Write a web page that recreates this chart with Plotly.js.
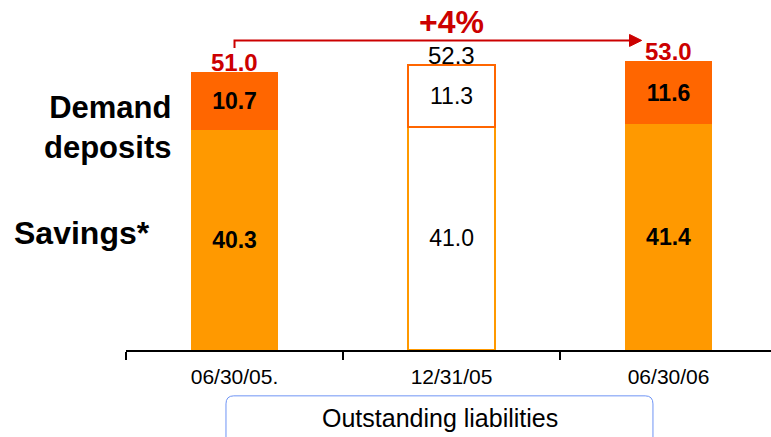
<!DOCTYPE html>
<html>
<head>
<meta charset="utf-8">
<script src="https://cdn.plot.ly/plotly-3.0.1.min.js"></script>
<style>
  html, body { margin: 0; padding: 0; background: #ffffff; }
  #chart { width: 771px; height: 437px; }
</style>
</head>
<body>
<div id="chart"></div>
<script>
// Outstanding liabilities, EUR bn
const periods = ['06/30/05.', '12/31/05', '06/30/06'];
const savings = [40.3, 41.0, 41.4];
const demandDeposits = [10.7, 11.3, 11.6];
const growthLabel = '+4%';
const seriesLabels = ['Demand<br>deposits', 'Savings*'];
const boxLabel = 'Outstanding liabilities';

const ORANGE = '#FF9900';
const DARK_ORANGE = '#FF6600';
const RED = '#CC0000';
const FONT = '"Liberation Sans", Arial, Helvetica, sans-serif';

// the middle period is shown as an outlined (hollow) bar
const hollow = [false, true, false];
const totals = savings.map((v, i) => +(v + demandDeposits[i]).toFixed(1));

const fmt = (v, i) => hollow[i] ? v.toFixed(1) : '<b>' + v.toFixed(1) + '</b>';

const savingsTrace = {
  type: 'bar',
  x: periods,
  y: savings,
  width: 0.4,
  text: savings.map(fmt),
  textposition: 'inside',
  insidetextanchor: 'middle',
  textangle: 0,
  constraintext: 'none',
  textfont: { family: FONT, size: 23, color: '#000000' },
  marker: {
    color: hollow.map(h => h ? '#FFFFFF' : ORANGE),
    line: { color: ORANGE, width: hollow.map(h => h ? 2 : 0) }
  },
  hoverinfo: 'skip'
};

const demandTrace = {
  type: 'bar',
  x: periods,
  y: demandDeposits,
  width: 0.4,
  text: demandDeposits.map(fmt),
  textposition: 'inside',
  insidetextanchor: 'middle',
  textangle: 0,
  constraintext: 'none',
  textfont: { family: FONT, size: 23, color: '#000000' },
  marker: {
    color: hollow.map(h => h ? '#FFFFFF' : DARK_ORANGE),
    line: { color: DARK_ORANGE, width: hollow.map(h => h ? 2 : 0) }
  },
  hoverinfo: 'skip'
};

// total labels above each stack
const totalAnnotations = totals.map((t, i) => ({
  x: periods[i], y: t, xref: 'x', yref: 'y',
  text: hollow[i] ? t.toFixed(1) : '<b>' + t.toFixed(1) + '</b>',
  showarrow: false, yanchor: 'bottom', yshift: -6,
  font: { family: FONT, size: 24, color: hollow[i] ? '#000000' : RED }
}));

// growth arrow from the first to the last period
const yArrowStart = totals[0] + 4.4;
const yArrow = totals[0] + 5.8;
const arrowShapes = [
  {
    type: 'path', xref: 'x', yref: 'y',
    path: `M 0 ${yArrowStart} L 0 ${yArrow} L 1.83 ${yArrow}`,
    line: { color: RED, width: 2 }
  },
  {
    type: 'path', xref: 'x', yref: 'y',
    path: `M 1.82 ${yArrow + 1.1} L 1.876 ${yArrow} L 1.82 ${yArrow - 1.1} Z`,
    fillcolor: RED, line: { color: RED, width: 1 }
  }
];

// rounded frame under the category labels
function roundedRect(x0, x1, y0, y1, rx, ry) {
  return `M ${x0 + rx} ${y0} L ${x1 - rx} ${y0} Q ${x1} ${y0} ${x1} ${y0 - ry} ` +
         `L ${x1} ${y1 + ry} Q ${x1} ${y1} ${x1 - rx} ${y1} ` +
         `L ${x0 + rx} ${y1} Q ${x0} ${y1} ${x0} ${y1 + ry} ` +
         `L ${x0} ${y0 - ry} Q ${x0} ${y0} ${x0 + rx} ${y0} Z`;
}
const boxShape = {
  type: 'path', xref: 'paper', yref: 'paper',
  path: roundedRect(0.155, 0.817, -0.131, -0.30, 0.012, 0.023),
  line: { color: '#6E94F5', width: 1 }, fillcolor: 'rgba(0,0,0,0)'
};

const layout = {
  width: 771, height: 437,
  margin: { l: 126, r: 0, t: 0, b: 87 },
  paper_bgcolor: '#FFFFFF', plot_bgcolor: '#FFFFFF',
  barmode: 'stack',
  showlegend: false,
  font: { family: FONT, color: '#000000' },
  xaxis: {
    type: 'category',
    range: [-0.5, 2.472],
    showgrid: false, zeroline: false,
    showline: true, linecolor: '#000000', linewidth: 2,
    ticks: 'outside', tickson: 'boundaries', ticklen: 8, tickwidth: 1.5, tickcolor: '#000000',
    tickfont: { family: FONT, size: 21, color: '#000000' },
    ticklabelstandoff: 7,
    fixedrange: true
  },
  yaxis: {
    range: [0, 64.22],
    visible: false,
    fixedrange: true
  },
  shapes: [...arrowShapes, boxShape],
  annotations: [
    ...totalAnnotations,
    {
      x: 1, y: yArrow + 3.4, xref: 'x', yref: 'y',
      text: '<b>' + growthLabel + '</b>', showarrow: false,
      yanchor: 'middle',
      font: { family: FONT, size: 32, color: RED }
    },
    {
      x: 0.0729, y: 40.9, xref: 'paper', yref: 'y',
      text: '<b>' + seriesLabels[0] + '</b>', showarrow: false,
      xanchor: 'right', align: 'right', yanchor: 'middle',
      font: { family: FONT, size: 31, color: '#000000' }
    },
    {
      x: -0.177, y: 21.4, xref: 'paper', yref: 'y',
      text: '<b>' + seriesLabels[1] + '</b>', showarrow: false,
      xanchor: 'left', yanchor: 'middle',
      font: { family: FONT, size: 32, color: '#000000' }
    },
    {
      x: 0.487, y: -0.194, xref: 'paper', yref: 'paper',
      text: boxLabel, showarrow: false,
      xanchor: 'center', yanchor: 'middle',
      font: { family: FONT, size: 25, color: '#000000' }
    }
  ]
};

Plotly.newPlot('chart', [savingsTrace, demandTrace], layout, { displayModeBar: false, staticPlot: true });
</script>
</body>
</html>
